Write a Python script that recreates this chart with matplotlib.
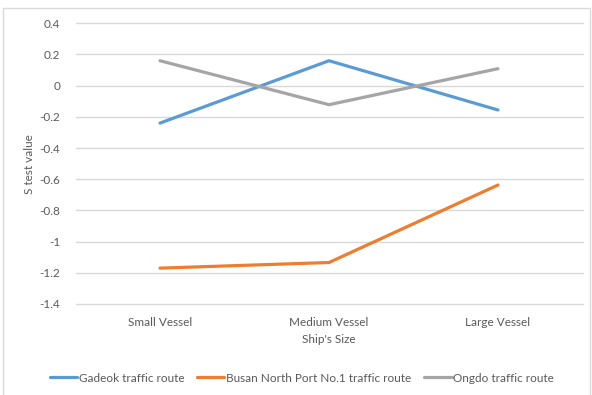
import matplotlib.pyplot as plt
from matplotlib.patches import Rectangle

plt.rcParams['font.family'] = ['Lato', 'DejaVu Sans']

sizes = ["Small Vessel", "Medium Vessel", "Large Vessel"]
gadeok = [-0.24, 0.16, -0.156]
busan = [-1.17, -1.134, -0.637]
ongdo = [0.16, -0.122, 0.109]
y_ticks = [0.4, 0.2, 0, -0.2, -0.4, -0.6, -0.8, -1, -1.2, -1.4]

fig = plt.figure(figsize=(5.92, 3.95), dpi=100)
fig.patches.append(Rectangle((3 / 592, -0.05), 587 / 592, 1.05 - 8 / 395,
                             transform=fig.transFigure, fill=False,
                             edgecolor="#d9d9d9", linewidth=1))
ax = fig.add_axes([75.5 / 592, 91 / 395, 507 / 592, 280.7 / 395])

x = range(len(sizes))
ax.plot(x, gadeok, color="#5b9bd5", lw=2.3, label="Gadeok traffic route", solid_capstyle="round")
ax.plot(x, busan, color="#ed7d31", lw=2.3, label="Busan North Port No.1 traffic route", solid_capstyle="round")
ax.plot(x, ongdo, color="#a5a5a5", lw=2.3, label="Ongdo traffic route", solid_capstyle="round")

ax.set_xlim(-0.5, 2.5)
ax.set_ylim(-1.4, 0.4)
ax.set_xticks(list(x))
ax.set_xticklabels(sizes)
ax.set_yticks(y_ticks)
ax.set_yticklabels([("%g" % v) for v in y_ticks])
ax.tick_params(length=0, labelsize=8.5, labelcolor="#595959")
ax.tick_params(axis="y", pad=11)
ax.tick_params(axis="x", pad=9)
for s in ax.spines.values():
    s.set_visible(False)
ax.yaxis.grid(True, color="#d9d9d9", lw=1)
for gl in ax.get_ygridlines():
    gl.set_clip_on(False)
ax.set_axisbelow(True)

ax.set_xlabel("Ship's Size", fontsize=8.5, color="#595959", labelpad=5)
ax.set_ylabel("S test value", fontsize=8.5, color="#595959", labelpad=3)

h, l = ax.get_legend_handles_labels()
fig.legend(h, l, loc="center", bbox_to_anchor=(302 / 592, 1 - 378 / 395), ncol=3,
           frameon=False, fontsize=8.5, labelcolor="#595959", handlelength=2.3,
           handletextpad=0.15, columnspacing=1.1, borderaxespad=0)

fig.savefig("out.png", dpi=100)
